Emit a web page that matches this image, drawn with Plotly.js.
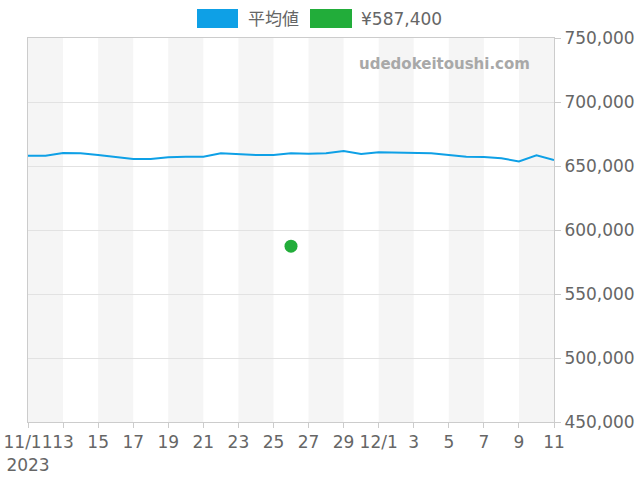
<!DOCTYPE html>
<html>
<head>
<meta charset="utf-8">
<script src="https://cdn.plot.ly/plotly-3.0.1.min.js"></script>
<style>
  html, body { margin: 0; padding: 0; background: #fff; }
  #chart { width: 640px; height: 480px; }
</style>
</head>
<body>
<div id="chart"></div>
<script>
// daily average price, 2023-11-11 .. 2023-12-11
const dates = [
  '2023-11-11', '2023-11-12', '2023-11-13', '2023-11-14', '2023-11-15', '2023-11-16',
  '2023-11-17', '2023-11-18', '2023-11-19', '2023-11-20', '2023-11-21', '2023-11-22',
  '2023-11-23', '2023-11-24', '2023-11-25', '2023-11-26', '2023-11-27', '2023-11-28',
  '2023-11-29', '2023-11-30', '2023-12-01', '2023-12-02', '2023-12-03', '2023-12-04',
  '2023-12-05', '2023-12-06', '2023-12-07', '2023-12-08', '2023-12-09', '2023-12-10',
  '2023-12-11'
];
const avgPrice = [
  658000, 658000, 660100, 659900, 658600, 657300,
  655500, 655500, 656800, 657300, 657300, 659900,
  659100, 658600, 658600, 659900, 659600, 659900,
  661700, 659400, 660700, 660400, 660100, 659900,
  658600, 657300, 657000, 656000, 653600, 658300,
  654700
];
const avgName = '平均値';

// single listing
const saleDate = ['2023-11-26'];
const salePrice = [587400];
const saleName = '¥587,400';

const tickDates = [
  '2023-11-11', '2023-11-13', '2023-11-15', '2023-11-17', '2023-11-19', '2023-11-21',
  '2023-11-23', '2023-11-25', '2023-11-27', '2023-11-29', '2023-12-01', '2023-12-03',
  '2023-12-05', '2023-12-07', '2023-12-09', '2023-12-11'
];
const tickLabels = [
  '11/11<br>2023', '13', '15', '17', '19', '21', '23', '25', '27', '29',
  '12/1', '3', '5', '7', '9', '11'
];

const blue = '#0ea0e6';
const green = '#22ad3a';
const textGrey = '#666666';

// plot area in pixels
const L = 28, R = 554, T = 38, B = 422;
function px(x) { return (x - L) / (R - L); }
function py(y) { return (B - y) / (B - T); }

// alternating grey bands every two days
const shapes = [];
for (let i = 0; i < tickDates.length - 1; i += 2) {
  shapes.push({
    type: 'rect', xref: 'x', yref: 'paper',
    x0: tickDates[i], x1: tickDates[i + 1], y0: 0, y1: 1,
    fillcolor: '#f5f5f5', line: { width: 0 }, layer: 'below'
  });
}

// legend boxes
shapes.push({ type: 'rect', xref: 'paper', yref: 'paper',
  x0: px(197), x1: px(238), y0: py(28), y1: py(9),
  fillcolor: blue, line: { width: 0 } });
shapes.push({ type: 'rect', xref: 'paper', yref: 'paper',
  x0: px(310), x1: px(352), y0: py(28), y1: py(9),
  fillcolor: green, line: { width: 0 } });

const annotations = [
  { xref: 'paper', yref: 'paper', x: px(246), y: py(18.5), xanchor: 'left', yanchor: 'middle',
    text: avgName, showarrow: false, font: { size: 17, color: textGrey } },
  { xref: 'paper', yref: 'paper', x: px(359), y: py(18.5), xanchor: 'left', yanchor: 'middle',
    text: saleName, showarrow: false, font: { size: 17, color: textGrey } },
  { xref: 'paper', yref: 'paper', x: px(532), y: py(64), xanchor: 'right', yanchor: 'middle',
    text: '<b>udedokeitoushi.com</b>', showarrow: false, font: { size: 15, color: '#a8a8a8' } }
];

const traces = [
  {
    x: dates, y: avgPrice, name: avgName,
    type: 'scatter', mode: 'lines',
    line: { color: blue, width: 2 },
    hoverinfo: 'skip'
  },
  {
    x: saleDate, y: salePrice, name: saleName,
    type: 'scatter', mode: 'markers',
    marker: { color: green, size: 13 },
    hoverinfo: 'skip'
  }
];

const layout = {
  width: 640,
  height: 480,
  margin: { l: L, r: 640 - R, t: T, b: 480 - B, pad: 0 },
  paper_bgcolor: '#ffffff',
  plot_bgcolor: '#ffffff',
  showlegend: false,
  font: { family: 'DejaVu Sans, Noto Sans CJK JP, sans-serif', size: 17, color: textGrey },
  xaxis: {
    type: 'date',
    range: ['2023-11-11', '2023-12-11'],
    tickmode: 'array',
    tickvals: tickDates,
    ticktext: tickLabels,
    tickangle: 0,
    showgrid: false,
    zeroline: false,
    showline: true,
    mirror: true,
    linecolor: '#cccccc',
    linewidth: 1,
    ticks: 'outside',
    ticklen: 5,
    tickcolor: '#cccccc',
    tickfont: { size: 17, color: textGrey },
    fixedrange: true
  },
  yaxis: {
    side: 'right',
    range: [450000, 750000],
    tickmode: 'linear',
    tick0: 450000,
    dtick: 50000,
    tickformat: ',d',
    showgrid: true,
    gridcolor: '#e2e2e2',
    zeroline: false,
    showline: true,
    mirror: true,
    linecolor: '#cccccc',
    linewidth: 1,
    ticks: 'outside',
    ticklen: 6,
    tickcolor: '#cccccc',
    tickfont: { size: 17, color: textGrey },
    fixedrange: true
  },
  shapes: shapes,
  annotations: annotations
};

Plotly.newPlot('chart', traces, layout, { staticPlot: true, displayModeBar: false });
</script>
</body>
</html>
